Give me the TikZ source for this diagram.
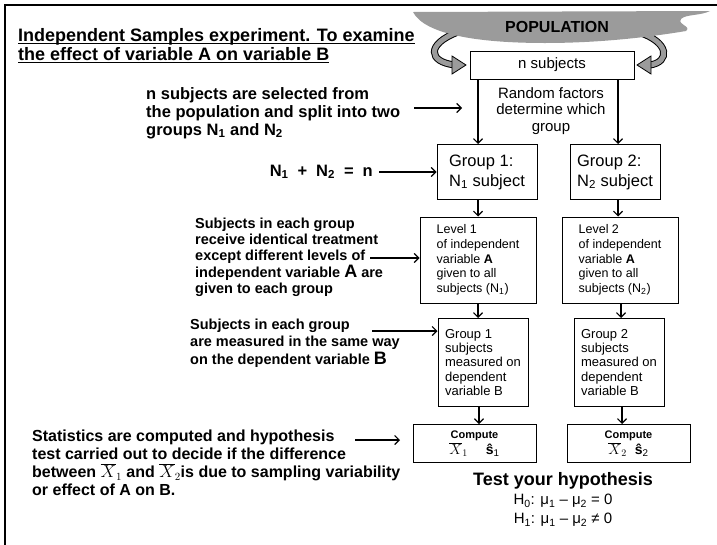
\documentclass[tikz,border=0pt]{standalone}
\usepackage{fontspec}
\setmainfont{Liberation Sans}
\usetikzlibrary{arrows.meta}
\newcommand\fsz[2]{\fontsize{#1}{#2}\selectfont}
\newcommand\sbx[1]{\textsubscript{#1}}
\newcommand\ulx[1]{\setbox0\hbox{#1}\rlap{\rule[-2.6pt]{\wd0}{1.3pt}}\box0}
\definecolor{popgray}{RGB}{155,155,155}
\begin{document}
\begin{tikzpicture}[x=1pt,y=-1pt,
  box/.style={draw, line width=1pt, inner sep=0pt, align=left},
  arr/.style={line width=1.2pt, -{Straight Barb[length=4.5pt,width=9pt]}},
  lbl/.style={inner sep=0pt, align=left},
  band/.style={line width=7pt},
  bandin/.style={line width=5pt, popgray},
  head/.style={fill=popgray, draw=black, line width=0.8pt}
]
\useasboundingbox (0,0) rectangle (717,544);
\draw[line width=2.5pt] (5,546) -- (5,5) -- (719,5);

% curved arrows (tails hidden under the cloud)
\draw[band] (458,32) .. controls (426,44) and (428,62) .. (455,65);
\draw[bandin] (458,32) .. controls (426,44) and (428,62) .. (455,65);
\draw[band] (638,32) .. controls (670,42) and (670,62) .. (650,65);
\draw[bandin] (638,32) .. controls (670,42) and (670,62) .. (650,65);

% population cloud
\fill[popgray] (413,12) -- (710,11) .. controls (700,16) and (686,14) .. (681,19)
  .. controls (677,25) and (692,26) .. (686,31)
  .. controls (650,37) and (600,43) .. (545,43)
  .. controls (480,43) and (425,35) .. (413,12) -- cycle;
\node[font=\fsz{16}{18}\bfseries] (pop) at (557,27) {POPULATION};

\filldraw[head] (452,56) -- (466,65) -- (452,74) -- cycle;
\filldraw[head] (651,56) -- (637,65) -- (651,74) -- cycle;

% right-hand flow
\node[box, minimum width=164, minimum height=28, font=\fsz{15}{17}] (nsub) at (552,65) {n subjects};
\node[align=center, inner sep=0pt, font=\fsz{15}{16.5}] (rand) at (551,111) {Random factors\\determine which\\group};
\coordinate (xa) at (478,0);
\coordinate (xb) at (618,0);
\coordinate (xc) at (621,0);
\coordinate (xd) at (479,0);
\coordinate (xe) at (622,0);

\node[box, minimum width=100, minimum height=55, font=\fsz{16.5}{20}] (g1) at (487,172) {Group 1:\\N\sbx{1} subject};
\node[box, minimum width=90, minimum height=55, font=\fsz{16.5}{20}] (g2) at (615,172) {Group 2:\\N\sbx{2} subject};
\draw[arr] (nsub.south -| xa) -- (g1.north -| xa);
\draw[arr] (nsub.south -| xb) -- (g2.north -| xb);

\node[box, minimum width=116, minimum height=86, font=\fsz{12.5}{14.7}] (l1) at (478,260) {Level 1\\of independent\\variable \textbf{A}\\given to all\\subjects (N\sbx{1})};
\node[box, minimum width=116, minimum height=86, font=\fsz{12.5}{14.7}] (l2) at (620,260) {Level 2\\of independent\\variable \textbf{A}\\given to all\\subjects (N\sbx{2})};
\draw[arr] (g1.south -| xa) -- (l1.north -| xa);
\draw[arr] (g2.south -| xb) -- (l2.north -| xb);

\node[box, minimum width=90, minimum height=88, font=\fsz{13}{14.3}] (m1) at (483,362.5) {Group 1\\subjects\\measured on\\dependent\\variable B};
\node[box, minimum width=90, minimum height=88, font=\fsz{13}{14.3}] (m2) at (619,362.5) {Group 2\\subjects\\measured on\\dependent\\variable B};
\draw[arr] (l1.south -| xa) -- (m1.north -| xa);
\draw[arr] (l2.south -| xc) -- (m2.north -| xc);

\node[box, minimum width=123, minimum height=38, align=center] (c1) at (474.5,443.5) {{\fsz{11}{13}\bfseries Compute}\\[1pt]{\fsz{14}{16}$\overline{X}_{1}$\hspace{18pt}\textbf{ŝ}\sbx{1}}};
\node[box, minimum width=123, minimum height=38, align=center] (c2) at (628.5,443.5) {{\fsz{11}{13}\bfseries Compute}\\[1pt]{\fsz{14}{16}$\overline{X}_{2}$\hspace{8pt}\textbf{ŝ}\sbx{2}}};
\draw[arr] (m1.south -| xd) -- (c1.north -| xd);
\draw[arr] (m2.south -| xe) -- (c2.north -| xe);

\node[font=\fsz{18}{20}\bfseries] (test) at (563,481) {Test your hypothesis};
\node[font=\fsz{15}{17}] (h0) at (563,501) {H\sbx{0}: μ\sbx{1} – μ\sbx{2} = 0};
\node[font=\fsz{15}{17}] (h1) at (563,520) {H\sbx{1}: μ\sbx{1} – μ\sbx{2} ≠ 0};

% left-hand explanations
\node[lbl, anchor=west, font=\fsz{18}{19}\bfseries] (title) at (18,46) {\ulx{Independent Samples experiment. To examine}\\\ulx{the effect of variable A on variable B}};

\node[lbl, anchor=west, font=\fsz{16.5}{18}\bfseries] (sel) at (146,113) {n subjects are selected from\\the population and split into two\\groups N\sbx{1} and N\sbx{2}};
\coordinate (selA) at (414,108);
\coordinate (selB) at (462,108);
\draw[arr] (selA) -- (selB);

\node[lbl, anchor=east, font=\fsz{16.5}{18}\bfseries] (sum) at (373,172) {N\sbx{1}\hspace{9pt}+\hspace{9pt}N\sbx{2}\hspace{9pt}=\hspace{9pt}n};
\coordinate (sumA) at (379,172);
\draw[arr] (sumA) -- (sumA -| g1.west);

\node[lbl, anchor=west, font=\fsz{14.5}{16.3}\bfseries] (treat) at (195,257) {Subjects in each group\\receive identical treatment\\except different levels of\\independent variable {\fsz{18}{16.3}A} are\\given to each group};
\coordinate (treatA) at (370,258);
\draw[arr] (treatA) -- (treatA -| l1.west);

\node[lbl, anchor=west, font=\fsz{14.5}{17.5}\bfseries] (meas) at (190,343) {Subjects in each group\\are measured in the same way\\on the dependent variable {\fsz{18}{17.5}B}};
\coordinate (measA) at (372,331);
\draw[arr] (measA) -- (measA -| m1.west);

\node[lbl, anchor=west, font=\fsz{16}{18}\bfseries] (stats) at (32,463) {Statistics are computed and hypothesis\\test carried out to decide if the difference\\between $\overline{X}_{1}$ and $\overline{X}_{2}$is due to sampling variability\\or effect of A on B.};
\coordinate (statA) at (355,440);
\coordinate (statB) at (400,440);
\draw[arr] (statA) -- (statB);
\end{tikzpicture}
\end{document}
